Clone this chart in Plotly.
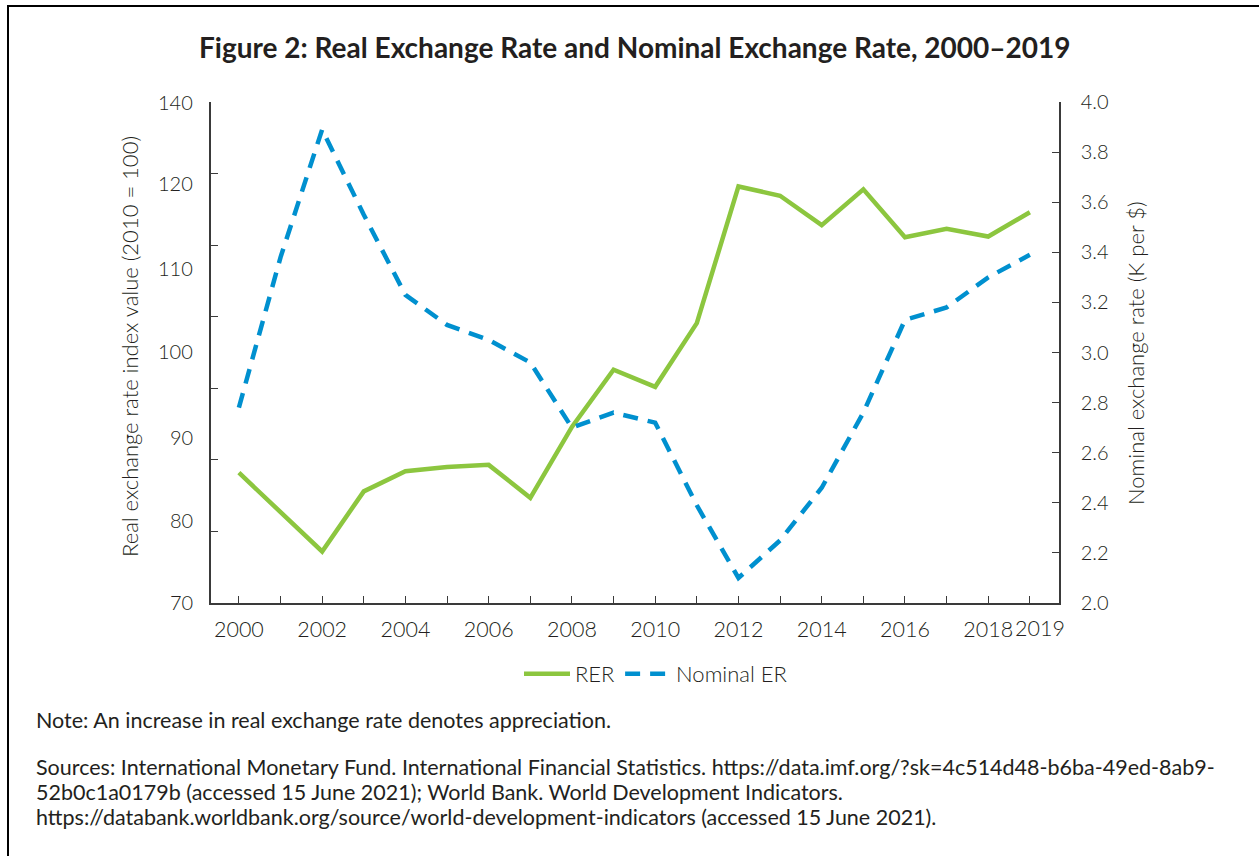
import plotly.graph_objects as go

# Annual series, 2000-2019
years = list(range(2000, 2020))
rer = [88.2, 82.7, 77.2, 85.6, 88.4, 89.0, 89.3, 84.7, 94.6, 102.6,
       100.2, 109.1, 128.2, 126.9, 122.8, 127.8, 121.1, 122.3, 121.2, 124.6]
nominal_er = [2.78, 3.38, 3.89, 3.55, 3.23, 3.11, 3.05, 2.96, 2.70, 2.76,
              2.72, 2.39, 2.10, 2.25, 2.46, 2.76, 3.13, 3.18, 3.30, 3.39]

# even years are labelled on the axis; the final year gets its own label
x_tick_text = [str(y) if y % 2 == 0 else "" for y in years]
last_year = years[-1]
left_ticks = [70, 80, 90, 100, 110, 120, 130, 140]
right_ticks = [2.0, 2.2, 2.4, 2.6, 2.8, 3.0, 3.2, 3.4, 3.6, 3.8, 4.0]
# left-axis labels as printed, with their vertical positions (share of plot height)
left_label_text = ["140", "120", "110", "100", "90", "80", "70"]
left_label_pos = [1.0, 0.838, 0.669, 0.503, 0.331, 0.166, 0.002]

GREEN = "#8CC63F"
BLUE = "#0090CF"
AXIS = "#3a3a3a"
TEXT = "#231F20"
FONT = "Lato"

# plot-area geometry (pixels) for placing the surrounding text
W, H = 1259, 856
L, R, T, B = 211, 200, 102, 253
PW, PH = W - L - R, H - T - B


def px(x):
    return (x - L) / PW


def py(y):
    return (H - B - y) / PH


fig = go.Figure()
fig.add_trace(go.Scatter(
    x=years, y=rer, name="RER", mode="lines",
    line=dict(color=GREEN, width=4.5), yaxis="y"))
fig.add_trace(go.Scatter(
    x=years, y=nominal_er, name="Nominal ER", mode="lines",
    line=dict(color=BLUE, width=4.5, dash="15px,10px"), yaxis="y2"))

tickfont = dict(family=FONT, size=20, color=TEXT, weight=300)
xtickfont = dict(family=FONT, size=21.5, color=TEXT, weight=300)

fig.update_layout(
    width=W, height=H,
    margin=dict(l=L, r=R, t=T, b=B),
    paper_bgcolor="white", plot_bgcolor="white",
    showlegend=True,
    legend=dict(orientation="h", x=px(656), xanchor="center",
                y=py(674), yanchor="middle",
                font=dict(family=FONT, size=22, color=TEXT, weight=300),
                itemwidth=46, traceorder="normal"),
    xaxis=dict(range=[1999.33, 2019.7], tickvals=years, ticktext=x_tick_text,
               tickangle=0,
               ticks="inside", ticklen=7, tickwidth=1.3, tickcolor=AXIS,
               showline=True, linecolor=AXIS, linewidth=1.5,
               showgrid=False, zeroline=False, tickfont=xtickfont,
               ticklabelstandoff=6),
    yaxis=dict(range=[70, 140], tickvals=left_ticks, showticklabels=False,
               ticks="inside", ticklen=7, tickwidth=1.3, tickcolor=AXIS,
               showline=True, linecolor=AXIS, linewidth=1.5,
               showgrid=False, zeroline=False),
    yaxis2=dict(range=[2.0, 4.0], tickvals=right_ticks, tickformat=".1f",
                overlaying="y", side="right",
                ticks="inside", ticklen=7, tickwidth=1.3, tickcolor=AXIS,
                showline=True, linecolor=AXIS, linewidth=1.5,
                showgrid=False, zeroline=False, tickfont=tickfont,
                ticklabelstandoff=16),
)

annotations = [
    dict(text="<b>Figure 2: Real Exchange Rate and Nominal Exchange Rate, 2000–2019</b>",
         x=px(635), y=py(47), xanchor="center", yanchor="middle",
         font=dict(family=FONT, size=28, color=TEXT)),
    dict(text="Real exchange rate index value (2010 = 100)", textangle=-90,
         x=px(129), y=py(347), xanchor="center", yanchor="middle",
         font=dict(family=FONT, size=22, color=TEXT, weight=300)),
    dict(text="Nominal exchange rate (K per $)", textangle=-90,
         x=px(1135), y=py(353), xanchor="center", yanchor="middle",
         font=dict(family=FONT, size=22, color=TEXT, weight=300)),
    # final-year label, nudged right of its tick so it clears the 2018 label
    dict(text=str(last_year), x=px(1040), y=py(628), xanchor="center",
         yanchor="middle", font=xtickfont),
]
for txt, pos in zip(left_label_text, left_label_pos):
    annotations.append(dict(text=txt, x=px(195), y=pos, xanchor="right",
                            yanchor="middle", font=tickfont))

notes = [
    ("Note: An increase in real exchange rate denotes appreciation.", 720),
    ("Sources: International Monetary Fund. International Financial Statistics. "
     "https://data.imf.org/?sk=4c514d48-b6ba-49ed-8ab9-", 767),
    ("52b0c1a0179b (accessed 15 June 2021); World Bank. World Development Indicators.", 792),
    ("https://databank.worldbank.org/source/world-development-indicators (accessed 15 June 2021).", 817),
]
for txt, yy in notes:
    annotations.append(dict(text=txt, x=px(34), y=py(yy), xanchor="left",
                            yanchor="middle",
                            font=dict(family=FONT, size=21.5, color=TEXT, weight=400)))

for a in annotations:
    a.update(xref="paper", yref="paper", showarrow=False)
fig.update_layout(annotations=annotations)

# outer frame
fig.add_shape(type="rect", xref="paper", yref="paper",
              x0=px(8), x1=px(1270), y0=py(6), y1=py(870),
              line=dict(color="black", width=2), fillcolor="rgba(0,0,0,0)",
              layer="above")

fig.write_html("out.html")
